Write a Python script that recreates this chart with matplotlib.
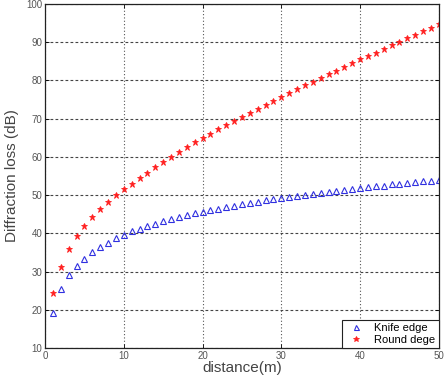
import matplotlib
matplotlib.use("Agg")
import matplotlib.pyplot as plt

plt.rcParams['font.family'] = ['Liberation Sans', 'DejaVu Sans']

distance = list(range(1, 51))
knife_edge = [19.2, 25.4, 29.0, 31.5, 33.4, 35.0, 36.4, 37.6, 38.7, 39.6,
              40.5, 41.2, 41.9, 42.5, 43.1, 43.7, 44.2, 44.7, 45.2, 45.6,
              46.0, 46.4, 46.8, 47.2, 47.6, 47.9, 48.3, 48.6, 48.9, 49.2,
              49.5, 49.8, 50.1, 50.4, 50.6, 50.9, 51.1, 51.4, 51.6, 51.9,
              52.1, 52.3, 52.5, 52.8, 53.0, 53.2, 53.4, 53.6, 53.8, 54.0]
round_edge = [24.3, 31.2, 35.8, 39.2, 41.9, 44.2, 46.3, 48.2, 50.0, 51.5,
              53.0, 54.5, 55.9, 57.3, 58.6, 59.9, 61.2, 62.5, 63.8, 65.0,
              66.1, 67.2, 68.3, 69.4, 70.5, 71.6, 72.6, 73.6, 74.7, 75.7,
              76.7, 77.7, 78.7, 79.7, 80.6, 81.6, 82.6, 83.5, 84.5, 85.5,
              86.4, 87.3, 88.2, 89.2, 90.1, 91.0, 91.9, 92.9, 93.8, 94.7]
xticks = [0, 10, 20, 30, 40, 50]
yticks = [10, 20, 30, 40, 50, 60, 70, 80, 90, 100]

fig = plt.figure(figsize=(4.46, 3.82), dpi=100)
ax = fig.add_axes([0.101, 0.089, 0.883, 0.9005])

ax.plot(distance, knife_edge, linestyle='none', marker='^', markersize=4.5,
        markerfacecolor='none', markeredgecolor='#3030e0', markeredgewidth=0.8,
        label='Knife edge')
ax.plot(distance, round_edge, linestyle='none', marker='*', markersize=5,
        color='#ff2020', markeredgewidth=0.6, label='Round dege')

ax.set_xlim(0, 50)
ax.set_ylim(10, 100)
ax.set_xticks(xticks)
ax.set_yticks(yticks)
ax.tick_params(direction='in', top=True, right=True, labelsize=7,
               labelcolor='#555555', length=3, width=0.6, pad=2)
for s in ax.spines.values():
    s.set_linewidth(0.9)
    s.set_color('#222222')

ax.xaxis.grid(True, linestyle=(0, (1, 2)), color='#555555', linewidth=0.8)
ax.yaxis.grid(True, linestyle=(0, (2.5, 2)), color='#444444', linewidth=0.8)

ax.set_xlabel('distance(m)', fontsize=11, color='#444444', labelpad=0)
ax.set_ylabel('Diffraction loss (dB)', fontsize=11, color='#444444', labelpad=5)

leg = ax.legend(loc='lower right', fontsize=8, fancybox=False, framealpha=1,
                edgecolor='#222222', borderaxespad=0, handlelength=1.8,
                handletextpad=0.8, borderpad=0.3, labelspacing=0.15,
                markerscale=0.8)
leg.get_frame().set_linewidth(0.8)

fig.savefig('out.png', dpi=100)
